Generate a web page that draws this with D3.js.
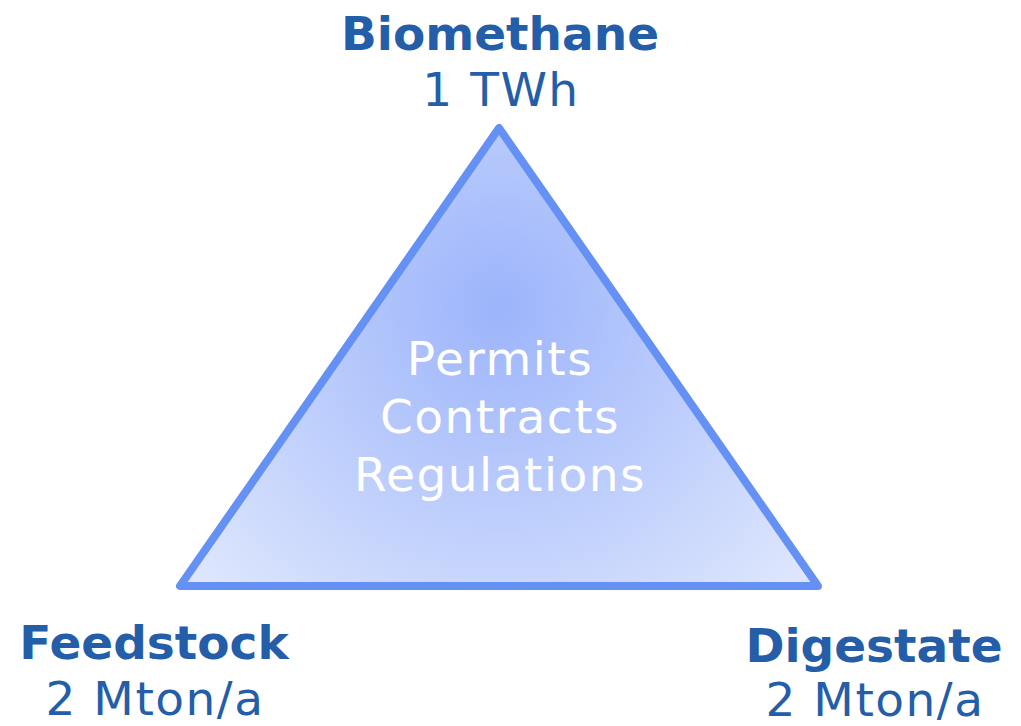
<!DOCTYPE html>
<html>
<head>
<meta charset="utf-8">
<script src="https://cdn.jsdelivr.net/npm/d3@7"></script>
<style>
  body { margin: 0; background: #fff; }
  text { font-family: "DejaVu Sans", Verdana, sans-serif; }
</style>
</head>
<body>
<div id="chart"></div>
<script>
// Corner labels (apex, bottom-left, bottom-right)
var names = ["Biomethane", "Feedstock", "Digestate"];
var amounts = ["1 TWh", "2 Mton/a", "2 Mton/a"];
// corner position in unit triangle space
var cornerU = [0.5, 0, 1];
var cornerV = [0, 1, 1];
// Text inside the triangle
var centreLines = ["Permits", "Contracts", "Regulations"];

var width = 1021, height = 726;

var svg = d3.select("#chart")
  .append("svg")
    .attr("width", width)
    .attr("height", height);

// map unit triangle to pixels
var x = d3.scaleLinear().domain([0, 1]).range([180, 818]);
var y = d3.scaleLinear().domain([0, 1]).range([128, 586]);

var defs = svg.append("defs");
var grad = defs.append("radialGradient")
    .attr("id", "fillGrad")
    .attr("gradientUnits", "userSpaceOnUse")
    .attr("cx", x(0.5)).attr("cy", y(0.39))
    .attr("r", 400);
grad.append("stop").attr("offset", "0%").attr("stop-color", "#9cb4fb");
grad.append("stop").attr("offset", "50%").attr("stop-color", "#bccdfc");
grad.append("stop").attr("offset", "100%").attr("stop-color", "#dde6fd");

var pts = cornerU.map(function (u, i) { return [x(u), y(cornerV[i])]; });

svg.append("path")
  .attr("d", d3.line()(pts) + "Z")
  .attr("fill", "url(#fillGrad)")
  .attr("stroke", "#6591f5")
  .attr("stroke-width", 8)
  .attr("stroke-linejoin", "round");

// centre text
svg.selectAll(".centre")
  .data(centreLines)
  .enter()
  .append("text")
    .attr("class", "centre")
    .attr("x", x(0.5) + 1)
    .attr("y", function (d, i) { return 375 + i * 58; })
    .attr("text-anchor", "middle")
    .style("font-size", "47px")
    .style("letter-spacing", "1.5px")
    .style("fill", "#ffffff")
    .text(function (d) { return d; });

// corner labels: apex above, base corners below
var labelX = [x(0.5) + 1, 154, 874];
var labelY = [50, 659, 662];

var g = svg.selectAll(".corner")
  .data(names)
  .enter()
  .append("g")
    .attr("class", "corner");

g.append("text")
  .attr("x", function (d, i) { return labelX[i]; })
  .attr("y", function (d, i) { return labelY[i]; })
  .attr("text-anchor", "middle")
  .style("font-size", "47px")
  .style("font-weight", "bold")
  .style("fill", "#245ea8")
  .text(function (d) { return d; });

g.append("text")
  .attr("x", function (d, i) { return labelX[i] + 1; })
  .attr("y", function (d, i) { return labelY[i] + (i === 2 ? 54 : 56); })
  .attr("text-anchor", "middle")
  .style("font-size", "47px")
  .style("letter-spacing", "1.5px")
  .style("fill", "#245ea8")
  .text(function (d, i) { return amounts[i]; });
</script>
</body>
</html>
